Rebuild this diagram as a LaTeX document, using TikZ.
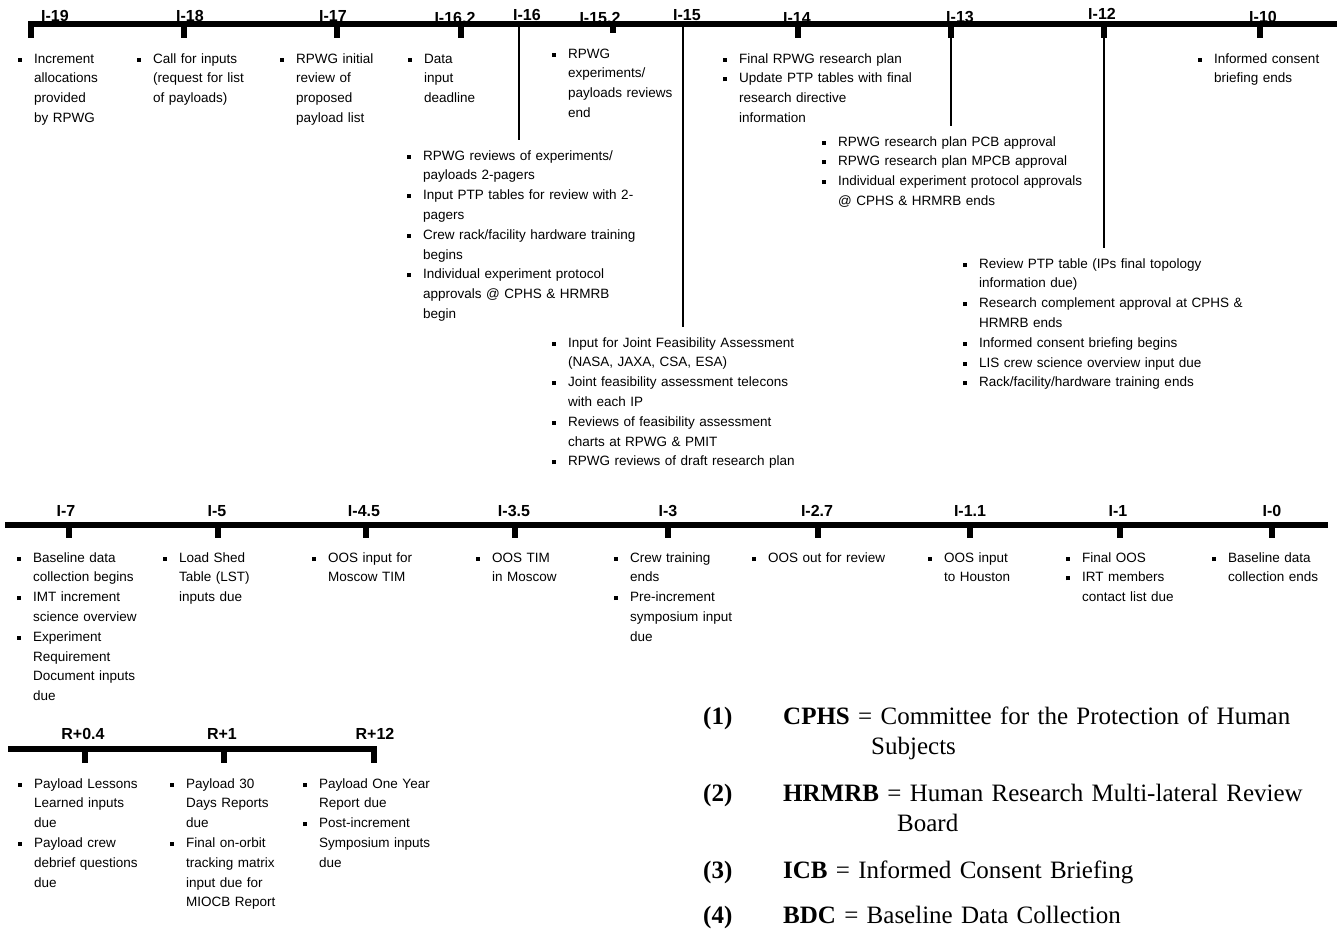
\documentclass[tikz,border=0pt]{standalone}
\usepackage{fontspec}
\setmainfont{Liberation Sans}
\newfontfamily\legendfont{Liberation Serif}
\usetikzlibrary{positioning,calc}

\newcommand{\itm}[1]{\par\noindent\makebox[16pt][l]{\rule[1.5pt]{3.5pt}{4pt}}\begin{tabular}[t]{@{}l@{}}#1\end{tabular}}

\begin{document}
\begin{tikzpicture}[
    x=1pt, y=-1pt,
    axis/.style={line width=5.5pt},
    tick/.style={line width=6.5pt},
    leader/.style={line width=1.4pt},
    stamp/.style={inner sep=0pt, font=\bfseries\fontsize{16}{18}\selectfont},
    note/.style={anchor=north west, inner sep=0pt, text width=320pt, align=left,
        font=\fontsize{13.5}{19.8}\selectfont\setlength{\parskip}{0pt}\setlength{\lineskiplimit}{-6pt}\setlength{\lineskip}{0pt}},
    legend/.style={anchor=north west, inner sep=0pt, text width=600pt, align=left,
        font=\legendfont\fontsize{25}{30}\selectfont}
]
    \useasboundingbox (0,0) rectangle (1339,930);

    % first row: I-19 .. I-10
    \coordinate (a0) at (28,24);
    \coordinate (a1) at (1337,24);
    \coordinate (m19) at (31,24);
    \coordinate (m18) at (184,24);
    \coordinate (m17) at (337,24);
    \coordinate (m162) at (461,24);
    \coordinate (m16) at (519,24);
    \coordinate (m152) at (613,24);
    \coordinate (m15) at (683,24);
    \coordinate (m14) at (798,24);
    \coordinate (m13) at (951,24);
    \coordinate (m12) at (1104,24);
    \coordinate (m10) at (1260,24);

    \node[stamp] (l19) at (55,16) {I-19};
    \node[stamp] (l18) at (190,16) {I-18};
    \node[stamp] (l17) at (333,16) {I-17};
    \node[stamp] (l162) at (455,18) {I-16.2};
    \node[stamp] (l16) at (527,15) {I-16};
    \node[stamp] (l152) at (600,18) {I-15.2};
    \node[stamp] (l15) at (687,15) {I-15};
    \node[stamp] (l14) at (797,18) {I-14};
    \node[stamp] (l13) at (960,17) {I-13};
    \node[stamp] (l12) at (1102,14) {I-12};
    \node[stamp] (l10) at (1263,17) {I-10};

    \node[note] (n19) at (18,43) {\itm{Increment\\allocations\\provided\\by RPWG}};
    \node[note] (n18) at (137,43) {\itm{Call for inputs\\(request for list\\of payloads)}};
    \node[note] (n17) at (280,43) {\itm{RPWG initial\\review of\\proposed\\payload list}};
    \node[note] (n162) at (408,43) {\itm{Data\\input\\deadline}};
    \node[note] (n152) at (552,38) {\itm{RPWG\\experiments/\\payloads reviews\\end}};
    \node[note] (n14) at (723,43) {\itm{Final RPWG research plan}
        \itm{Update PTP tables with final\\research directive\\information}};
    \node[note] (n10) at (1198,43) {\itm{Informed consent\\briefing ends}};
    \node[note] (n16) at (407,140) {\itm{RPWG reviews of experiments/\\payloads 2-pagers}
        \itm{Input PTP tables for review with 2-\\pagers}
        \itm{Crew rack/facility hardware training\\begins}
        \itm{Individual experiment protocol\\approvals @ CPHS \& HRMRB\\begin}};
    \node[note] (n13) at (822,126) {\itm{RPWG research plan PCB approval}
        \itm{RPWG research plan MPCB approval}
        \itm{Individual experiment protocol approvals\\@ CPHS \& HRMRB ends}};
    \node[note] (n15) at (552,327) {\itm{Input for Joint Feasibility Assessment\\(NASA, JAXA, CSA, ESA)}
        \itm{Joint feasibility assessment telecons\\with each IP}
        \itm{Reviews of feasibility assessment\\charts at RPWG \& PMIT}
        \itm{RPWG reviews of draft research plan}};
    \node[note] (n12) at (963,248) {\itm{Review PTP table (IPs final topology\\information due)}
        \itm{Research complement approval at CPHS \&\\HRMRB ends}
        \itm{Informed consent briefing begins}
        \itm{LIS crew science overview input due}
        \itm{Rack/facility/hardware training ends}};

    \draw[axis] (a0) -- (a1);
    \foreach \m in {m19,m18,m17,m162,m14,m13,m12,m10}
        \draw[tick] (\m) -- ++(0,14);
    \draw[tick] (m152) -- ++(0,9);
    \draw[leader] (m16) -- (m16 |- n16.north);
    \draw[leader] (m15) -- (m15 |- n15.north);
    \draw[leader] (m13) -- (m13 |- n13.north);
    \draw[leader] (m12) -- (m12 |- n12.north);

    % second row: I-7 .. I-0
    \coordinate (b0) at (5,525);
    \coordinate (b1) at (1328,525);
    \coordinate (k7) at (69,525);
    \coordinate (k5) at (218,525);
    \coordinate (k45) at (366,525);
    \coordinate (k35) at (515,525);
    \coordinate (k3) at (668,525);
    \coordinate (k27) at (818,525);
    \coordinate (k11) at (970,525);
    \coordinate (k1) at (1120,525);
    \coordinate (k0) at (1272,525);

    \node[stamp] (s7) at (66,511) {I-7};
    \node[stamp] (s5) at (217,511) {I-5};
    \node[stamp] (s45) at (364,511) {I-4.5};
    \node[stamp] (s35) at (514,511) {I-3.5};
    \node[stamp] (s3) at (668,511) {I-3};
    \node[stamp] (s27) at (817,511) {I-2.7};
    \node[stamp] (s11) at (970,511) {I-1.1};
    \node[stamp] (s1) at (1118,511) {I-1};
    \node[stamp] (s0) at (1272,511) {I-0};

    \node[note] (p7) at (17,542) {\itm{Baseline data\\collection begins}
        \itm{IMT increment\\science overview}
        \itm{Experiment\\Requirement\\Document inputs\\due}};
    \node[note] (p5) at (163,542) {\itm{Load Shed\\Table (LST)\\inputs due}};
    \node[note] (p45) at (312,542) {\itm{OOS input for\\Moscow TIM}};
    \node[note] (p35) at (476,542) {\itm{OOS TIM\\in Moscow}};
    \node[note] (p3) at (614,542) {\itm{Crew training\\ends}
        \itm{Pre-increment\\symposium input\\due}};
    \node[note] (p27) at (752,542) {\itm{OOS out for review}};
    \node[note] (p11) at (928,542) {\itm{OOS input\\to Houston}};
    \node[note] (p1) at (1066,542) {\itm{Final OOS}
        \itm{IRT members\\contact list due}};
    \node[note] (p0) at (1212,542) {\itm{Baseline data\\collection ends}};

    \draw[axis] (b0) -- (b1);
    \foreach \m in {k7,k5,k45,k35,k3,k27,k11,k1,k0}
        \draw[tick] (\m) -- ++(0,13);

    % third row: R+0.4 .. R+12
    \coordinate (c0) at (8,749);
    \coordinate (r04) at (85,749);
    \coordinate (r1) at (224,749);
    \coordinate (r12) at (374,749);

    \node[stamp] (t04) at (83,734) {R+0.4};
    \node[stamp] (t1) at (222,734) {R+1};
    \node[stamp] (t12) at (375,734) {R+12};

    \node[note] (q04) at (18,768) {\itm{Payload Lessons\\Learned inputs\\due}
        \itm{Payload crew\\debrief questions\\due}};
    \node[note] (q1) at (170,768) {\itm{Payload 30\\Days Reports\\due}
        \itm{Final on-orbit\\tracking matrix\\input due for\\MIOCB Report}};
    \node[note] (q12) at (303,768) {\itm{Payload One Year\\Report due}
        \itm{Post-increment\\Symposium inputs\\due}};

    \draw[axis] (c0) -- ($(r12)+(3,0)$);
    \foreach \m in {r04,r1,r12}
        \draw[tick] (\m) -- ++(0,14);

    % abbreviations
    \node[legend] (k1n) at (703,707) {\textbf{(1)}};
    \node[legend] (k1t) at (783,707) {\textbf{CPHS} = Committee for the Protection of Human\\\hspace*{88pt}Subjects};
    \node[legend] (k2n) at (703,784) {\textbf{(2)}};
    \node[legend] (k2t) at (783,784) {\textbf{HRMRB} = Human Research Multi-lateral Review\\\hspace*{114pt}Board};
    \node[legend] (k3n) at (703,861) {\textbf{(3)}};
    \node[legend] (k3t) at (783,861) {\textbf{ICB} = Informed Consent Briefing};
    \node[legend] (k4n) at (703,906) {\textbf{(4)}};
    \node[legend] (k4t) at (783,906) {\textbf{BDC} = Baseline Data Collection};
\end{tikzpicture}
\end{document}
